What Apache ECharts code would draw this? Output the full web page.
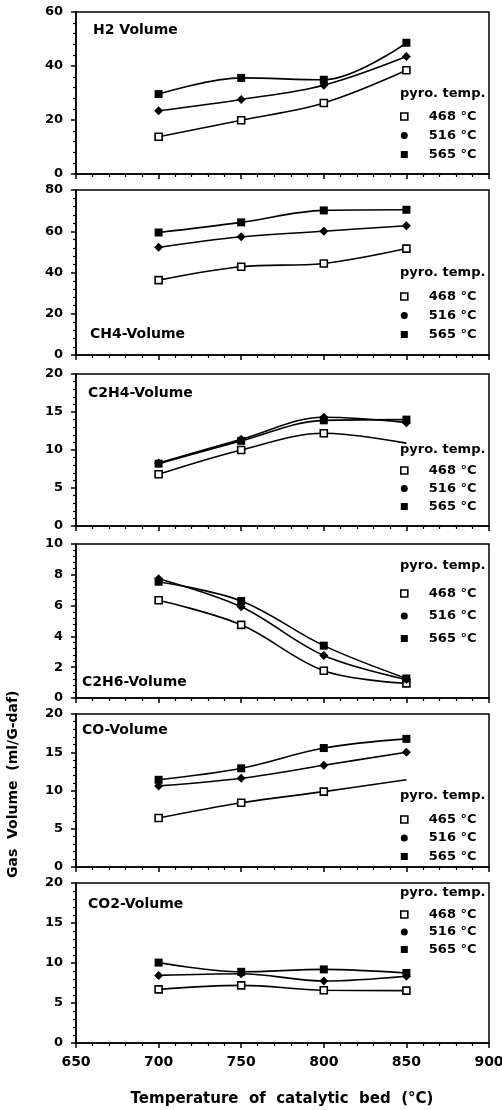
<!DOCTYPE html>
<html>
<head>
<meta charset="utf-8">
<script src="https://cdn.jsdelivr.net/npm/echarts@6/dist/echarts.min.js"></script>
<style>html,body{margin:0;padding:0;background:#fff}#c{width:502px;height:1110px}</style>
</head>
<body>
<div id="c"></div>
<script>
// ---- data ----
const xTemps = [700, 750, 800, 850];
const xTicks = [650, 700, 750, 800, 850, 900];

const h2_468 = [13.8, 19.9, 26.3, 38.4];
const h2_516 = [23.4, 27.6, 32.9, 43.5];
const h2_565 = [29.6, 35.6, 34.9, 48.6];

const ch4_468 = [36.3, 42.8, 44.4, 51.6];
const ch4_516 = [52.2, 57.3, 60.0, 62.7];
const ch4_565 = [59.4, 64.3, 70.1, 70.4];

const c2h4_468 = [6.8, 10.0, 12.2, 10.9];
const c2h4_516 = [8.3, 11.4, 14.3, 13.6];
const c2h4_565 = [8.2, 11.2, 13.9, 14.0];

const c2h6_468 = [6.35, 4.75, 1.77, 0.95];
const c2h6_516 = [7.75, 5.92, 2.76, 1.2];
const c2h6_565 = [7.55, 6.3, 3.4, 1.27];

const co_465 = [6.4, 8.4, 9.85, 11.4];
const co_516 = [10.6, 11.6, 13.3, 15.0];
const co_565 = [11.4, 12.9, 15.55, 16.75];

const co2_468 = [6.7, 7.2, 6.6, 6.55];
const co2_516 = [8.45, 8.65, 7.75, 8.35];
const co2_565 = [10.05, 8.9, 9.2, 8.75];

const panelNames = ['H2 Volume', 'CH4-Volume', 'C2H4-Volume', 'C2H6-Volume', 'CO-Volume', 'CO2-Volume'];
const yMax = [60, 80, 20, 10, 20, 20];
const yStep = [20, 20, 5, 2, 5, 5];
const legendNames = [
  ['468 °C', '516 °C', '565 °C'],
  ['468 °C', '516 °C', '565 °C'],
  ['468 °C', '516 °C', '565 °C'],
  ['468 °C', '516 °C', '565 °C'],
  ['465 °C', '516 °C', '565 °C'],
  ['468 °C', '516 °C', '565 °C']
];
const panelSeries = [
  [h2_468, h2_516, h2_565],
  [ch4_468, ch4_516, ch4_565],
  [c2h4_468, c2h4_516, c2h4_565],
  [c2h6_468, c2h6_516, c2h6_565],
  [co_465, co_516, co_565],
  [co2_468, co2_516, co2_565]
];
const legendTitle = 'pyro. temp.';
const xTitle = 'Temperature  of  catalytic  bed  (°C)';
const yTitle = 'Gas  Volume  (ml/G-daf)';

// ---- layout ----
const FONT = 'DejaVu Sans';
const grids = [
  {top: 12, height: 162},
  {top: 190, height: 165},
  {top: 374, height: 152},
  {top: 544, height: 154},
  {top: 714, height: 153},
  {top: 883, height: 160}
];
const labelPos = [
  {left: 93, top: 23}, {left: 90, top: 327}, {left: 88, top: 386},
  {left: 82, top: 675}, {left: 82, top: 723}, {left: 88, top: 897}
];
// legend: [titleTop, firstItemTop, itemGap]
const legendPos = [
  [87, 110, 6], [266, 290, 6], [443, 464, 5], [559, 587, 9.5], [789, 813, 5.5], [886, 908, 4.5]
];
const noMarkerLast = {2: true, 4: true};

const txt = {fontFamily: FONT, fontWeight: 'bold', color: '#000', fontSize: 13};
const symStyles = [
  {symbol: 'rect', symbolSize: 7, itemStyle: {color: '#fff', borderColor: '#000', borderWidth: 1.6}},
  {symbol: 'diamond', symbolSize: 9, itemStyle: {color: '#000'}},
  {symbol: 'rect', symbolSize: 8, itemStyle: {color: '#000'}}
];

const option = {
  backgroundColor: '#fff',
  animation: false,
  grid: [], xAxis: [], yAxis: [], series: [], title: [], legend: [],
  graphic: [
    {type: 'text', x: 282, y: 1092,
     style: {text: xTitle, fill: '#000', font: 'bold 15px "DejaVu Sans"', align: 'center', verticalAlign: 'top'}},
    {type: 'text', rotation: Math.PI / 2, x: 6, y: 878,
     style: {text: yTitle, fill: '#000', font: 'bold 14px "DejaVu Sans"'}}
  ]
};

grids.forEach((g, i) => {
  option.grid.push({left: 76, right: 13, top: g.top, height: g.height, show: true,
    borderColor: '#000', borderWidth: 1.5, backgroundColor: 'transparent',
    containLabel: false, outerBoundsMode: 'none'});
  option.xAxis.push({
    type: 'value', gridIndex: i, min: xTicks[0], max: xTicks[xTicks.length - 1], interval: 50,
    axisLine: {lineStyle: {color: '#000', width: 1.5}},
    axisTick: {show: true, inside: false, length: 5, lineStyle: {color: '#000', width: 1.5}},
    minorTick: {show: true, splitNumber: 5, length: 3, lineStyle: {color: '#000', width: 1.2}},
    splitLine: {show: false},
    axisLabel: {show: i === grids.length - 1, margin: 12, ...txt, fontSize: 14}
  });
  option.yAxis.push({
    type: 'value', gridIndex: i, min: 0, max: yMax[i], interval: yStep[i],
    axisLine: {show: true, lineStyle: {color: '#000', width: 1.5}},
    axisTick: {show: true, inside: false, length: 5, lineStyle: {color: '#000', width: 1.5}},
    minorTick: {show: true, splitNumber: 5, length: 3, lineStyle: {color: '#000', width: 1.2}},
    splitLine: {show: false},
    axisLabel: {margin: 13, ...txt}
  });
  option.title.push({text: panelNames[i], left: labelPos[i].left, top: labelPos[i].top, padding: 0,
    textStyle: {...txt, fontSize: 14}});
  option.title.push({text: legendTitle, left: 400, top: legendPos[i][0], padding: 0,
    textStyle: {...txt, fontSize: 13}});
  option.legend.push({
    orient: 'vertical', left: 400, top: legendPos[i][1], padding: 0, itemGap: legendPos[i][2],
    itemWidth: 7, itemHeight: 7, selectedMode: false,
    textStyle: {...txt, fontSize: 13, padding: [0, 0, 0, 16]},
    data: legendNames[i].map((n, k) => ({name: n, icon: k === 1 ? 'circle' : 'rect',
      itemStyle: Object.assign({borderWidth: 0}, symStyles[k].itemStyle)}))
  });
  panelSeries[i].forEach((vals, k) => {
    const data = vals.map((v, j) => {
      const pt = [xTemps[j], v];
      if (k === 0 && noMarkerLast[i] && j === vals.length - 1) return {value: pt, symbol: 'none'};
      return pt;
    });
    option.series.push({
      type: 'line', name: legendNames[i][k], xAxisIndex: i, yAxisIndex: i,
      data: data, smooth: 0.35, showSymbol: true,
      symbol: symStyles[k].symbol, symbolSize: symStyles[k].symbolSize,
      itemStyle: symStyles[k].itemStyle,
      lineStyle: {color: '#000', width: 1.6},
      z: 3 + k
    });
  });
});

const chart = echarts.init(document.getElementById('c'), null, {renderer: 'canvas'});
chart.setOption(option);
</script>
</body>
</html>
